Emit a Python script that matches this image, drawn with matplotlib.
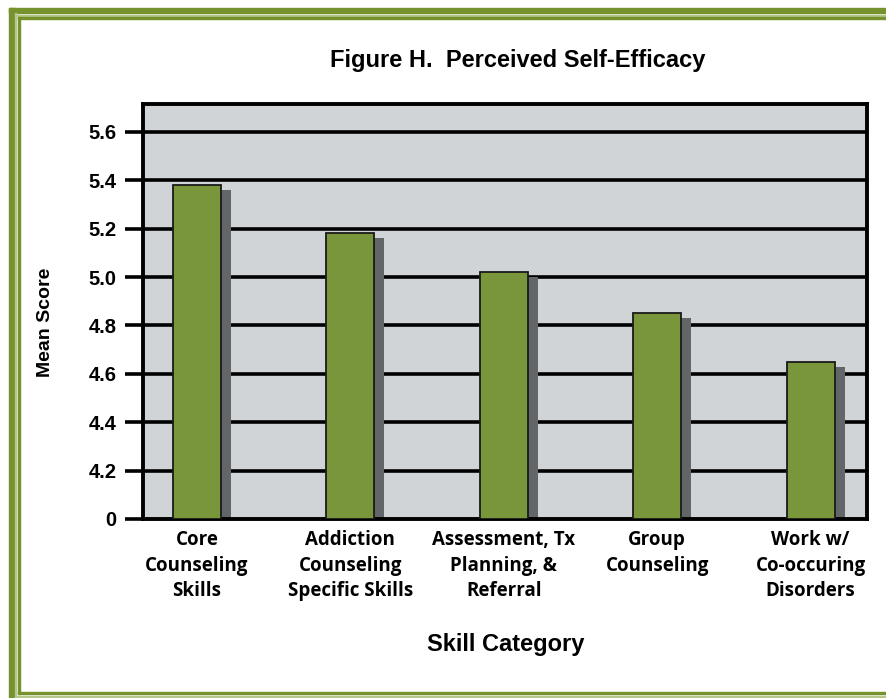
import numpy as np
import matplotlib.pyplot as plt
from matplotlib.patches import Rectangle

# data
categories = ['Core\nCounseling\nSkills',
              'Addiction\nCounseling\nSpecific Skills',
              'Assessment, Tx\nPlanning, &\nReferral',
              'Group\nCounseling',
              'Work w/\nCo-occuring\nDisorders']
scores = [5.38, 5.18, 5.02, 4.85, 4.65]
ytick_vals = [4.0, 4.2, 4.4, 4.6, 4.8, 5.0, 5.2, 5.4, 5.6]
ytick_labels = ['0', '4.2', '4.4', '4.6', '4.8', '5.0', '5.2', '5.4', '5.6']

bar_green = '#7a963a'
shadow_grey = '#636669'
panel_grey = '#d1d4d7'
frame_green = '#76922c'

W, H = 886, 698
fig = plt.figure(figsize=(W/100, H/100), dpi=100)
fig.patch.set_facecolor('white')

def px(x, y):
    return x / W, 1 - y / H

# frame around figure
def frect(x0, y0, x1, y1, color):
    fx0, fy1 = px(x0, y0)
    fx1, fy0 = px(x1, y1)
    fig.patches.append(Rectangle((fx0, fy0), fx1 - fx0, fy1 - fy0,
                                 transform=fig.transFigure, color=color, zorder=0))

frect(9, 8, W, 13, frame_green)
frect(9, 8, 15, H, frame_green)
frect(15, 13, 16, H, '#b5c68a')
frect(15, 15, W, 16, '#b5c68a')
frect(18, 17, W, 19, frame_green)
frect(18, 17, 20, 694, frame_green)
frect(18, 692, W, 694, frame_green)
frect(15, 696, W, 698, '#b5c68a')

ax = fig.add_axes([143/W, 1 - 519/H, (867-143)/W, (519-104)/H])
ax.set_facecolor(panel_grey)

x = np.arange(len(categories))
bw = 0.313
off = 0.065
base = 4.0

# shadows then bars
ax.bar(x + off, np.array(scores) - 0.02 - base, bottom=base, width=bw,
       color=shadow_grey, zorder=2, align='center')
ax.bar(x, np.array(scores) - base, bottom=base, width=bw, color=bar_green,
       edgecolor='#1a1a1a', linewidth=1.3, zorder=3)

ax.set_xlim(-0.352, 4.368)
ax.set_ylim(4.0, 5.715)
ax.set_yticks(ytick_vals)
ax.set_yticklabels(ytick_labels, fontsize=14.5, fontweight='bold',
                   family='Liberation Sans')
for yv in ytick_vals[1:]:
    ax.axhline(yv, color='black', linewidth=2.6, zorder=1)

ax.tick_params(axis='y', length=13, width=2.6, pad=6, color='black')
ax.set_xticks(x)
ax.set_xticklabels(categories, fontsize=13.5, fontweight='bold',
                   family='Open Sans', linespacing=1.36)
ax.tick_params(axis='x', length=0, pad=8)
for s in ax.spines.values():
    s.set_linewidth(2.8)
    s.set_color('black')

fig.text(518/W, 1 - 61/H, 'Figure H.  Perceived Self-Efficacy', ha='center',
         va='center', fontsize=17, fontweight='bold', family='Liberation Sans')
fig.text(506/W, 1 - 645/H, 'Skill Category', ha='center', va='center',
         fontsize=17, fontweight='bold', family='Liberation Sans')
fig.text(45/W, 1 - 322/H, 'Mean Score', ha='center', va='center',
         rotation=90, fontsize=14, fontweight='bold', family='Liberation Sans')

plt.savefig('out.png', dpi=100)
